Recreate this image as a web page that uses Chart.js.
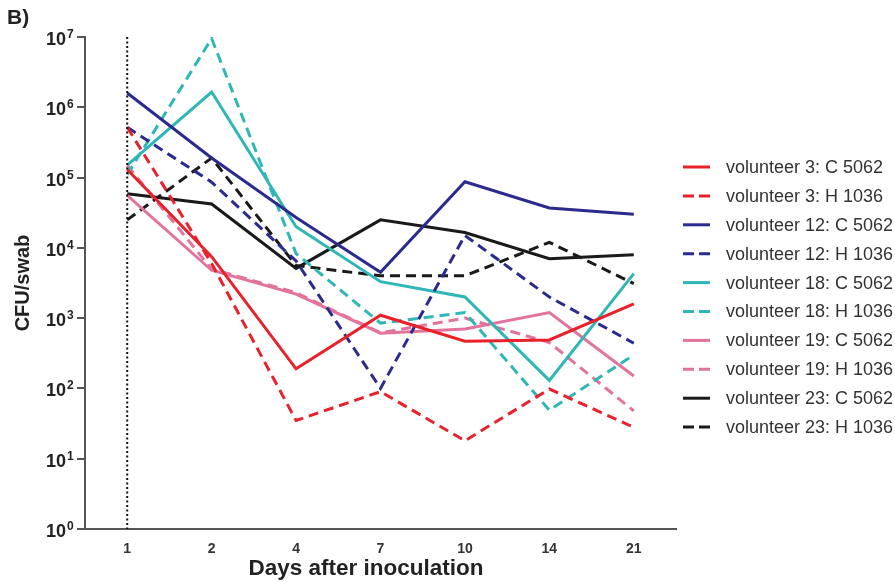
<!DOCTYPE html>
<html>
<head>
<meta charset="utf-8">
<script src="https://cdn.jsdelivr.net/npm/chart.js@4.4.0/dist/chart.umd.min.js"></script>
<style>
    html, body { margin: 0; padding: 0; background: #fff; }
    #wrap { position: relative; width: 895px; height: 582px; }
    #panel { position: absolute; left: 7px; top: 5px; font: bold 21px "Liberation Sans", Arial, sans-serif; color: #222; }
</style>
</head>
<body>
<div id="wrap">
    <canvas id="chart" width="895" height="582"></canvas>
    <div id="panel">B)</div>
</div>
<script>
// Dias após inoculação (categorias)
const days = ['1', '2', '4', '7', '10', '14', '21'];

// CFU/swab por voluntário e cepa
const v3C  = [1.3e5, 7.5e3, 190, 1.1e3, 470, 490, 1.6e3];
const v3H  = [5.2e5, 6e3, 35, 90, 18, 98, 28];
const v12C = [1.6e6, 1.9e5, 2.7e4, 4.5e3, 8.7e4, 3.7e4, 3e4];
const v12H = [5.2e5, 8.6e4, 6.5e3, 100, 1.5e4, 2e3, 440];
const v18C = [1.5e5, 1.65e6, 2e4, 3.3e3, 2e3, 130, 4.3e3];
const v18H = [1.1e5, 9.5e6, 8.3e3, 850, 1.2e3, 49, 300];
const v19C = [5.6e4, 4.8e3, 2.2e3, 610, 700, 1.2e3, 150];
const v19H = [1.5e5, 5e3, 2.3e3, 620, 1e3, 450, 48];
const v23C = [5.9e4, 4.2e4, 5.1e3, 2.5e4, 1.65e4, 7e3, 8e3];
const v23H = [2.5e4, 1.9e5, 5.6e3, 4e3, 4e3, 1.2e4, 3.1e3];

// Expoentes dos ticks do eixo y (10^0 ... 10^7)
const yExponents = [0, 1, 2, 3, 4, 5, 6, 7];

const FONT = '"Liberation Sans", Arial, sans-serif';
const dash = [10, 6];

function serie(label, data, color, dashed) {
    return {
        label: label,
        data: data,
        borderColor: color,
        backgroundColor: color,
        borderWidth: 3,
        borderDash: dashed ? dash : [],
        pointRadius: 0,
        tension: 0,
        fill: false
    };
}

// Linha pontilhada vertical no dia 1
const inoculationLine = {
    id: 'inoculationLine',
    afterDatasetsDraw(chart) {
        const x = chart.scales.x.getPixelForValue(0);
        const y = chart.scales.y;
        const ctx = chart.ctx;
        ctx.save();
        ctx.strokeStyle = '#111';
        ctx.lineWidth = 2;
        ctx.setLineDash([2, 2.5]);
        ctx.beginPath();
        ctx.moveTo(x, y.getPixelForValue(1e7));
        ctx.lineTo(x, y.getPixelForValue(1));
        ctx.stroke();
        ctx.restore();
    }
};

// Rótulos do eixo y com expoente sobrescrito
const powerLabels = {
    id: 'powerLabels',
    afterDraw(chart) {
        const scale = chart.scales.y;
        const ctx = chart.ctx;
        ctx.save();
        ctx.fillStyle = '#222';
        yExponents.forEach(k => {
            const y = scale.getPixelForValue(Math.pow(10, k));
            ctx.font = 'bold 18px ' + FONT;
            ctx.textAlign = 'right';
            ctx.textBaseline = 'alphabetic';
            ctx.fillText('10', 66, y + 8);
            ctx.font = 'bold 12px ' + FONT;
            ctx.textAlign = 'left';
            ctx.fillText(String(k), 67, y + 1);
        });
        ctx.restore();
    }
};

// Título do eixo x
const xTitle = {
    id: 'xTitle',
    afterDraw(chart) {
        const ctx = chart.ctx;
        ctx.save();
        ctx.fillStyle = '#222';
        ctx.font = 'bold 22.5px ' + FONT;
        ctx.textAlign = 'center';
        ctx.textBaseline = 'alphabetic';
        ctx.fillText('Days after inoculation', 366, 575);
        ctx.restore();
    }
};

// Legenda desenhada à direita (amostras tracejadas)
const sideLegend = {
    id: 'sideLegend',
    afterDraw(chart) {
        const ctx = chart.ctx;
        ctx.save();
        chart.data.datasets.forEach((ds, i) => {
            const y = 167 + i * 28.9;
            ctx.strokeStyle = ds.borderColor;
            ctx.lineWidth = 3;
            ctx.setLineDash(ds.borderDash.length ? [11, 5] : []);
            ctx.beginPath();
            ctx.moveTo(683, y);
            ctx.lineTo(710, y);
            ctx.stroke();
            ctx.fillStyle = '#333';
            ctx.font = '18px ' + FONT;
            ctx.textAlign = 'left';
            ctx.textBaseline = 'middle';
            ctx.fillText(ds.label, 726, y + 1);
        });
        ctx.restore();
    }
};

const ctx = document.getElementById('chart').getContext('2d');
new Chart(ctx, {
    type: 'line',
    data: {
        labels: days,
        datasets: [
            serie('volunteer 3: C 5062', v3C, '#e8212b', false),
            serie('volunteer 3: H 1036', v3H, '#e8212b', true),
            serie('volunteer 12: C 5062', v12C, '#2b2a8e', false),
            serie('volunteer 12: H 1036', v12H, '#2b2a8e', true),
            serie('volunteer 18: C 5062', v18C, '#2fb6b6', false),
            serie('volunteer 18: H 1036', v18H, '#2fb6b6', true),
            serie('volunteer 19: C 5062', v19C, '#e2739c', false),
            serie('volunteer 19: H 1036', v19H, '#e2739c', true),
            serie('volunteer 23: C 5062', v23C, '#1a1a1a', false),
            serie('volunteer 23: H 1036', v23H, '#1a1a1a', true)
        ]
    },
    options: {
        responsive: false,
        animation: false,
        layout: { padding: { top: 37, left: 0, right: 219, bottom: 0 } },
        plugins: {
            tooltip: { enabled: false },
            legend: { display: false }
        },
        scales: {
            x: {
                type: 'category',
                offset: true,
                afterFit(scale) { scale.height = 53; },
                grid: { display: false, drawTicks: false },
                border: { display: true, color: '#555', width: 2 },
                ticks: { color: '#333', padding: 12, font: { family: FONT, size: 14, weight: 'bold' } },
                title: { display: false }
            },
            y: {
                type: 'logarithmic',
                min: 1,
                max: 1e7,
                afterBuildTicks(scale) {
                    scale.ticks = yExponents.map(k => ({ value: Math.pow(10, k) }));
                },
                afterFit(scale) { scale.width = 85; },
                grid: { drawOnChartArea: false, drawTicks: true, tickLength: 8, color: '#555', lineWidth: 2 },
                border: { display: true, color: '#555', width: 2 },
                ticks: { display: false },
                title: {
                    display: true,
                    text: 'CFU/swab',
                    color: '#222',
                    padding: { top: 11, bottom: 0 },
                    font: { family: FONT, size: 20, weight: 'bold' }
                }
            }
        }
    },
    plugins: [inoculationLine, powerLabels, xTitle, sideLegend]
});
</script>
</body>
</html>
